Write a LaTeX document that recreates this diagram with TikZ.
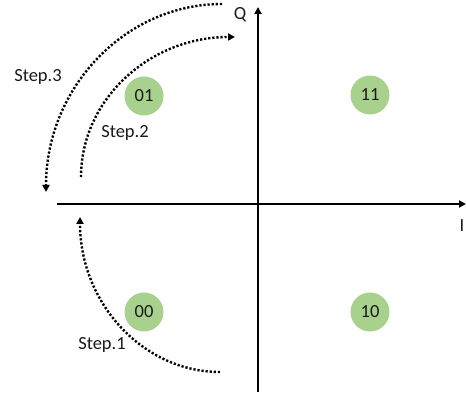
\documentclass[tikz,border=0pt]{standalone}
\usepackage{fontspec}
\setmainfont{Carlito}
\usepackage{xcolor}
\usetikzlibrary{positioning, arrows.meta}

\definecolor{symgreen}{HTML}{A9D18E}
\definecolor{inktext}{HTML}{1A1A1A}

\begin{document}
\begin{tikzpicture}[
    x=1pt, y=1pt,
    font=\fontsize{18.5}{22}\selectfont,
    symbol/.style={
        circle,
        fill=symgreen,
        text=inktext,
        minimum size=39pt,
        inner sep=0pt
    },
    axis/.style={
        line width=2.3pt,
        -{Triangle[length=7pt,width=7pt]}
    },
    steparc/.style={
        line width=2.4pt,
        dash pattern=on 2.2pt off 1.9pt,
        -{Triangle[length=7pt,width=7pt]}
    },
    lbl/.style={
        text=inktext,
        inner sep=1pt
    }
]
\useasboundingbox (0,0) rectangle (466,396);

% Axes
\coordinate (qlow) at (258,4);
\coordinate (qtop) at (258,389);
\coordinate (ileft) at (57,192);
\coordinate (iright) at (466,192);
\draw[axis] (qlow) -- (qtop);
\draw[axis] (ileft) -- (iright);
\node[lbl] (qlabel) at (240,381) {Q};
\node[lbl] (ilabel) at (462,170) {I};

% Nodes
\node[symbol] (s01) at (144,300) {01};
\node[symbol] (s11) at (370,301) {11};
\node[symbol] (s00) at (144,84) {00};
\node[symbol] (s10) at (370,84) {10};

\node[lbl] (step3) at (38,319) {Step.3};
\node[lbl] (step2) at (125,263) {Step.2};
\node[lbl] (step1) at (102,51) {Step.1};

% Arrows
\coordinate (a3start) at (222,392);
\coordinate (a3end) at (46,204);
\coordinate (a2start) at (81,219);
\coordinate (a2end) at (235,359);
\coordinate (a1start) at (220,24);
\coordinate (a1end) at (80,179);
\draw[steparc] (a3start) .. controls (125,392) and (46,308) .. (a3end);
\draw[steparc] (a2start) .. controls (81,296) and (149,359) .. (a2end);
\draw[steparc] (a1start) .. controls (143,24) and (80,93) .. (a1end);
\end{tikzpicture}
\end{document}
